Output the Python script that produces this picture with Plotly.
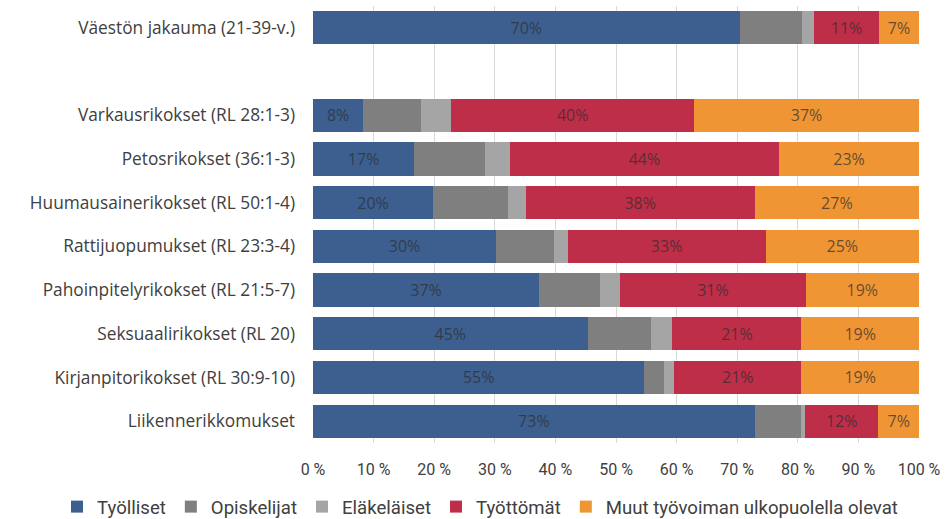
import plotly.graph_objects as go

categories = [
    "Väestön jakauma (21-39-v.)",
    " ",
    "Varkausrikokset (RL 28:1-3)",
    "Petosrikokset (36:1-3)",
    "Huumausainerikokset (RL 50:1-4)",
    "Rattijuopumukset (RL 23:3-4)",
    "Pahoinpitelyrikokset (RL 21:5-7)",
    "Seksuaalirikokset (RL 20)",
    "Kirjanpitorikokset (RL 30:9-10)",
    "Liikennerikkomukset",
]

series_names = ["Työlliset", "Opiskelijat", "Eläkeläiset", "Työttömät",
                "Muut työvoiman ulkopuolella olevat"]

tyolliset   = [70.4, None, 8.3, 16.7, 19.8, 30.2, 37.3, 45.3, 54.7, 72.9]
opiskelijat = [10.3, None, 9.6, 11.7, 12.3, 9.5, 10.1, 10.5, 3.3, 7.6]
elakelaiset = [2.0, None, 4.9, 4.1, 3.0, 2.3, 3.3, 3.5, 1.6, 0.7]
tyottomat   = [10.7, None, 40.1, 44.4, 37.8, 32.7, 30.6, 21.3, 21.0, 12.1]
muut        = [6.6, None, 37.1, 23.1, 27.1, 25.3, 18.7, 19.4, 19.4, 6.7]

show_labels = [True, False, False, True, True]
colors = ["#3d5f8f", "#7f7f7f", "#a5a5a5", "#bf2e48", "#ef9534"]

tick_vals = [0, 10, 20, 30, 40, 50, 60, 70, 80, 90, 100]
tick_text = ["0 %", "10 %", "20 %", "30 %", "40 %", "50 %",
             "60 %", "70 %", "80 %", "90 %", "100 %"]

cat_font = "'Open Sans', Lato, sans-serif"
tick_font = "Roboto, 'Open Sans', sans-serif"

fig = go.Figure()
for name, vals, lab, col in zip(series_names,
                                [tyolliset, opiskelijat, elakelaiset, tyottomat, muut],
                                show_labels, colors):
    fig.add_trace(go.Bar(
        y=categories, x=vals, name=name, orientation="h",
        marker=dict(color=col, line=dict(width=0)),
        texttemplate="%{x:.0f}%" if lab else None,
        textposition="inside" if lab else "none",
        insidetextanchor="middle",
        textangle=0,
        insidetextfont=dict(family=cat_font, size=16, color="rgba(45,45,45,0.72)"),
        hoverinfo="skip",
    ))

fig.update_layout(
    barmode="stack",
    bargap=0.24,
    width=946, height=519,
    margin=dict(l=313, r=27, t=6, b=76, autoexpand=False),
    plot_bgcolor="white", paper_bgcolor="white",
    font=dict(family=cat_font, color="#404040"),
    legend=dict(
        orientation="h", xref="paper", yref="paper",
        x=-0.4224, xanchor="left", y=-0.1465, yanchor="middle",
        font=dict(family=tick_font, size=18.6, color="#404040"),
        itemwidth=30, traceorder="normal", itemclick=False,
    ),
    showlegend=True,
)
fig.update_xaxes(
    range=[0, 100], tickvals=tick_vals, ticktext=tick_text,
    showgrid=True, gridcolor="#d9d9d9", gridwidth=1,
    zeroline=False, showline=False,
    tickfont=dict(family=tick_font, size=16, color="#404040"),
    ticks="", ticklabelstandoff=15,
)
fig.update_yaxes(
    categoryorder="array", categoryarray=categories, autorange="reversed",
    showgrid=False, zeroline=False, showline=False, ticks="",
    tickfont=dict(family=cat_font, size=17.3, color="#404040"),
    ticklabelstandoff=17,
)

fig.write_html("out.html", config={"displayModeBar": False},
               post_script="document.body.style.margin='0';")
